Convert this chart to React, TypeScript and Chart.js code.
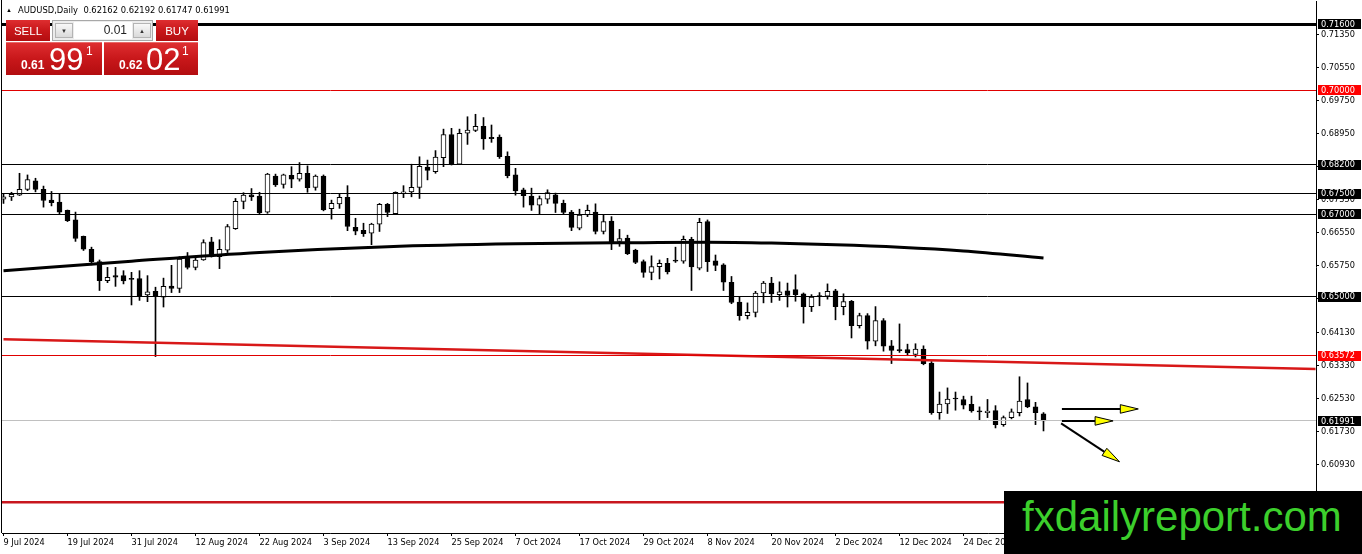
import React, { useEffect, useRef } from 'react';
import { Chart, registerables } from 'chart.js';

Chart.register(...registerables);

// ---------------- data (AUDUSD daily, bar 0 = 9 Jul 2024) ----------------
const opens = [
  0.6736, 0.6742, 0.6746, 0.6760, 0.6781, 0.6760, 0.6734, 0.6729, 0.6709, 0.6686,
  0.6646, 0.6615, 0.6585, 0.6539, 0.6551, 0.6551, 0.6543, 0.6544, 0.6504, 0.6513,
  0.6499, 0.6526, 0.6520, 0.6596, 0.6571, 0.6589, 0.6633, 0.6597, 0.6613, 0.6665,
  0.6731, 0.6747, 0.6744, 0.6705, 0.6792, 0.6772, 0.6794, 0.6785, 0.6799, 0.6765,
  0.6792, 0.6713, 0.6725, 0.6741, 0.6668, 0.6661, 0.6654, 0.6676, 0.6724, 0.6701,
  0.6750, 0.6754, 0.6765, 0.6814, 0.6803, 0.6837, 0.6893, 0.6821, 0.6896, 0.6903,
  0.6913, 0.6886, 0.6887, 0.6840, 0.6795, 0.6759, 0.6744, 0.6722, 0.6736, 0.6747,
  0.6726, 0.6705, 0.6666, 0.6698, 0.6705, 0.6658, 0.6683, 0.6634, 0.6642, 0.6613,
  0.6585, 0.6559, 0.6573, 0.6581, 0.6589, 0.6586, 0.6639, 0.6569, 0.6682, 0.6587,
  0.6577, 0.6535, 0.6487, 0.6454, 0.6462, 0.6509, 0.6533, 0.6505, 0.6514, 0.6517,
  0.6507, 0.6476, 0.6502, 0.6501, 0.6514, 0.6476, 0.6489, 0.6430, 0.6454, 0.6392,
  0.6442, 0.6381, 0.6372, 0.6372, 0.6360, 0.6373, 0.6339, 0.6219, 0.6240, 0.6254,
  0.6251, 0.6239, 0.6223, 0.6219, 0.6224, 0.6190, 0.6207, 0.6219, 0.6251, 0.6233, 0.62162,
];
const highs = [
  0.6748, 0.6753, 0.6799, 0.6795, 0.6787, 0.6768, 0.6755, 0.6748, 0.6710, 0.6705,
  0.6647, 0.6620, 0.6589, 0.6571, 0.6571, 0.6563, 0.6559, 0.6563, 0.6551, 0.6523,
  0.6545, 0.6576, 0.6597, 0.6607, 0.6597, 0.6638, 0.6644, 0.6638, 0.6675, 0.6738,
  0.6752, 0.6762, 0.6753, 0.6799, 0.6797, 0.6797, 0.6815, 0.6825, 0.6817, 0.6795,
  0.6795, 0.6734, 0.6750, 0.6769, 0.6690, 0.6678, 0.6678, 0.6726, 0.6726, 0.6754,
  0.6769, 0.6821, 0.6839, 0.6831, 0.6854, 0.6906, 0.6908, 0.6906, 0.6936, 0.6942,
  0.6934, 0.6916, 0.6892, 0.6851, 0.6811, 0.6763, 0.6763, 0.6744, 0.6759, 0.6751,
  0.6734, 0.6709, 0.6712, 0.6722, 0.6725, 0.6698, 0.6694, 0.6663, 0.6649, 0.6615,
  0.6589, 0.6599, 0.6589, 0.6593, 0.6620, 0.6647, 0.6644, 0.6690, 0.6686, 0.6601,
  0.6580, 0.6549, 0.6499, 0.6485, 0.6513, 0.6537, 0.6547, 0.6536, 0.6533, 0.6553,
  0.6509, 0.6505, 0.6510, 0.6531, 0.6518, 0.6507, 0.6491, 0.6460, 0.6459, 0.6476,
  0.6447, 0.6394, 0.6434, 0.6385, 0.6386, 0.6381, 0.6343, 0.6269, 0.6279, 0.6269,
  0.6259, 0.6259, 0.6233, 0.6251, 0.6236, 0.6211, 0.6228, 0.6306, 0.6291, 0.6244, 0.62192,
];
const lows = [
  0.6726, 0.6733, 0.6745, 0.6757, 0.6754, 0.6717, 0.6720, 0.6700, 0.6682, 0.6634,
  0.6612, 0.6577, 0.6515, 0.6534, 0.6525, 0.6531, 0.6480, 0.6491, 0.6488, 0.6355,
  0.6475, 0.6510, 0.6510, 0.6567, 0.6565, 0.6588, 0.6596, 0.6568, 0.6607, 0.6663,
  0.6713, 0.6733, 0.6700, 0.6702, 0.6767, 0.6763, 0.6764, 0.6780, 0.6753, 0.6758,
  0.6708, 0.6688, 0.6714, 0.6660, 0.6650, 0.6646, 0.6626, 0.6658, 0.6694, 0.6700,
  0.6740, 0.6742, 0.6738, 0.6783, 0.6799, 0.6815, 0.6819, 0.6821, 0.6869, 0.6900,
  0.6857, 0.6874, 0.6835, 0.6788, 0.6746, 0.6717, 0.6709, 0.6701, 0.6726, 0.6704,
  0.6701, 0.6660, 0.6662, 0.6694, 0.6652, 0.6652, 0.6614, 0.6622, 0.6602, 0.6580,
  0.6547, 0.6541, 0.6543, 0.6555, 0.6583, 0.6581, 0.6515, 0.6565, 0.6561, 0.6563,
  0.6515, 0.6483, 0.6443, 0.6446, 0.6451, 0.6485, 0.6486, 0.6491, 0.6475, 0.6489,
  0.6436, 0.6464, 0.6478, 0.6494, 0.6444, 0.6456, 0.6400, 0.6424, 0.6373, 0.6381,
  0.6368, 0.6338, 0.6365, 0.6357, 0.6354, 0.6335, 0.6215, 0.6203, 0.6217, 0.6225,
  0.6228, 0.6220, 0.6202, 0.6207, 0.6182, 0.6186, 0.6204, 0.6211, 0.6231, 0.6190, 0.61747,
];
const closes = [
  0.6742, 0.6748, 0.6760, 0.6784, 0.6760, 0.6733, 0.6728, 0.6705, 0.6684, 0.6641,
  0.6615, 0.6585, 0.6539, 0.6547, 0.6547, 0.6538, 0.6542, 0.6502, 0.6512, 0.6501,
  0.6525, 0.6520, 0.6591, 0.6571, 0.6589, 0.6631, 0.6597, 0.6615, 0.6670, 0.6731,
  0.6746, 0.6742, 0.6703, 0.6797, 0.6771, 0.6795, 0.6785, 0.6799, 0.6764, 0.6792,
  0.6710, 0.6726, 0.6741, 0.6670, 0.6659, 0.6653, 0.6676, 0.6724, 0.6704, 0.6753,
  0.6754, 0.6765, 0.6816, 0.6806, 0.6838, 0.6893, 0.6821, 0.6896, 0.6904, 0.6913,
  0.6882, 0.6883, 0.6839, 0.6793, 0.6756, 0.6745, 0.6722, 0.6738, 0.6752, 0.6726,
  0.6704, 0.6668, 0.6698, 0.6709, 0.6658, 0.6682, 0.6630, 0.6641, 0.6604, 0.6583,
  0.6559, 0.6573, 0.6581, 0.6560, 0.6586, 0.6639, 0.6572, 0.6680, 0.6585, 0.6576,
  0.6535, 0.6486, 0.6454, 0.6462, 0.6509, 0.6533, 0.6507, 0.6512, 0.6503, 0.6505,
  0.6476, 0.6499, 0.6500, 0.6513, 0.6476, 0.6488, 0.6430, 0.6454, 0.6392, 0.6442,
  0.6380, 0.6370, 0.6369, 0.6364, 0.6373, 0.6338, 0.6219, 0.6240, 0.6252, 0.6252,
  0.6237, 0.6223, 0.6221, 0.6223, 0.6190, 0.6207, 0.6221, 0.6247, 0.6233, 0.6219, 0.61991,
];

// date labels, one every 8 bars
const dateLabels = [
  '9 Jul 2024', '19 Jul 2024', '31 Jul 2024', '12 Aug 2024', '22 Aug 2024', '3 Sep 2024',
  '13 Sep 2024', '25 Sep 2024', '7 Oct 2024', '17 Oct 2024', '29 Oct 2024', '8 Nov 2024',
  '20 Nov 2024', '2 Dec 2024', '12 Dec 2024', '24 Dec 2024',
];
const dateLabelStep = 8;

// price axis tick labels
const priceTicks = [
  0.7135, 0.7055, 0.6975, 0.6895, 0.6815, 0.6735, 0.6655, 0.6575, 0.6495,
  0.6413, 0.6333, 0.6253, 0.6173, 0.6093,
];

// moving average (read at several bars)
const maIndex = [0, 16, 32, 48, 64, 80, 88, 96, 104, 112, 120, 130];
const maValue = [0.6563, 0.6586, 0.6607, 0.6621, 0.6628, 0.6631, 0.6632, 0.6630, 0.6626, 0.6620, 0.6611, 0.6594];

// sloped red trend line
const trendIndex = [0, 164];
const trendValue = [0.6397, 0.6325];

// horizontal levels
const levelPrices = [0.716, 0.70, 0.682, 0.675, 0.67, 0.65, 0.63572, 0.61991, 0.6002];
const levelColors = ['#000000', '#e00000', '#000000', '#000000', '#000000', '#000000', '#e00000', '#c0c0c0', '#c8161e'];
const levelWidths = [3, 1, 1, 1, 1, 1, 1, 1, 2.5];
const levelTagColors = ['#000000', '#ff0000', '#000000', '#000000', '#000000', '#000000', '#ff0000', '#000000', ''];

// arrows (bar index / price)
const arrowFromX = [132.3, 132.3, 132.2];
const arrowFromY = [0.6228, 0.6199, 0.6193];
const arrowToX = [141.85, 138.7, 139.5];
const arrowToY = [0.6228, 0.6199, 0.6100];

// ---------------- layout constants ----------------
const W = 1362;
const H = 554;
const X_MIN = -0.1875;
const X_MAX = 164.0625;
const Y_MIN = 0.592742;
const Y_MAX = 0.721646;
const AXIS_FONT = '"DejaVu Sans", "Liberation Sans", sans-serif';

const zeroPadding = (s: any) => {
  s.paddingTop = 0;
  s.paddingBottom = 0;
  s.paddingLeft = 0;
  s.paddingRight = 0;
};

const overlayPlugin = {
  id: 'mt4overlay',
  afterDatasetsDraw(chart: any) {
    const { ctx, chartArea: a, scales } = chart;
    const x = scales.x;
    const y = scales.y;
    ctx.save();
    ctx.beginPath();
    ctx.rect(a.left, a.top, a.right - a.left, a.bottom - a.top);
    ctx.clip();
    // horizontal levels
    levelPrices.forEach((p, k) => {
      const w = levelWidths[k];
      let py = y.getPixelForValue(p);
      if (w === 1 || w === 3) py = Math.round(py - 0.5) + 0.5;
      ctx.beginPath();
      ctx.strokeStyle = levelColors[k];
      ctx.lineWidth = w;
      ctx.moveTo(a.left, py);
      ctx.lineTo(a.right, py);
      ctx.stroke();
    });
    // arrows
    arrowFromX.forEach((_, k) => {
      const x0 = x.getPixelForValue(arrowFromX[k]);
      const y0 = y.getPixelForValue(arrowFromY[k]);
      const x1 = x.getPixelForValue(arrowToX[k]);
      const y1 = y.getPixelForValue(arrowToY[k]);
      const ang = Math.atan2(y1 - y0, x1 - x0);
      const L = 18;
      const HW = 4.3;
      const bx = x1 - L * Math.cos(ang);
      const by = y1 - L * Math.sin(ang);
      ctx.beginPath();
      ctx.strokeStyle = '#000';
      ctx.lineWidth = 2;
      ctx.moveTo(x0, y0);
      ctx.lineTo(bx, by);
      ctx.stroke();
      ctx.beginPath();
      ctx.moveTo(x1, y1);
      ctx.lineTo(bx + HW * Math.sin(ang), by - HW * Math.cos(ang));
      ctx.lineTo(bx - HW * Math.sin(ang), by + HW * Math.cos(ang));
      ctx.closePath();
      ctx.fillStyle = '#ffff00';
      ctx.fill();
      ctx.lineWidth = 1;
      ctx.strokeStyle = '#000';
      ctx.stroke();
    });
    ctx.restore();
    // left frame line
    ctx.save();
    ctx.fillStyle = '#000';
    ctx.fillRect(a.left - 1, 0, 1, a.bottom);
    ctx.restore();
  },
  afterDraw(chart: any) {
    const { ctx, chartArea: a, scales } = chart;
    const y = scales.y;
    ctx.save();
    ctx.font = `8.2px ${AXIS_FONT}`;
    ctx.textBaseline = 'middle';
    ctx.textAlign = 'left';
    levelPrices.forEach((p, k) => {
      const bg = levelTagColors[k];
      if (!bg) return;
      const py = y.getPixelForValue(p);
      ctx.fillStyle = bg;
      ctx.fillRect(a.right + 2, Math.round(py) - 5, 43, 10);
      ctx.fillStyle = '#ffffff';
      ctx.fillText(p.toFixed(5), a.right + 5, py + 0.5);
    });
    ctx.restore();
  },
};

const red = 'linear-gradient(180deg, #de2e30 0%, #c8171a 50%, #b30d10 100%)';

export default function App() {
  const canvasRef = useRef<HTMLCanvasElement>(null);

  useEffect(() => {
    const canvas = canvasRef.current;
    if (!canvas) return;
    const idx = opens.map((_, i) => i);
    const chart = new Chart(canvas, {
      type: 'bar',
      data: {
        datasets: [
          {
            type: 'bar',
            label: 'wicks',
            data: idx.map((i) => ({ x: i, y: [lows[i], highs[i]] })) as any,
            backgroundColor: '#000',
            borderWidth: 0,
            grouped: false,
            barThickness: 1,
            order: 3,
          } as any,
          {
            type: 'bar',
            label: 'bodies',
            data: idx.map((i) => ({ x: i, y: [opens[i], closes[i]] })) as any,
            backgroundColor: idx.map((i) => (closes[i] > opens[i] ? '#ffffff' : '#000000')),
            borderColor: '#000',
            borderWidth: 1,
            borderSkipped: false,
            grouped: false,
            barThickness: 5,
            minBarLength: 1,
            order: 2,
          } as any,
          {
            type: 'line',
            label: 'MA',
            data: maIndex.map((xv, k) => ({ x: xv, y: maValue[k] })),
            borderColor: '#000',
            borderWidth: 3,
            pointRadius: 0,
            cubicInterpolationMode: 'monotone',
            order: 1,
          } as any,
          {
            type: 'line',
            label: 'trend',
            data: trendIndex.map((xv, k) => ({ x: xv, y: trendValue[k] })),
            borderColor: '#d81818',
            borderWidth: 2.5,
            pointRadius: 0,
            order: 1,
          } as any,
        ],
      },
      options: {
        animation: false,
        responsive: false,
        events: [],
        layout: { padding: { left: 2, top: 1, right: 0, bottom: 0 } },
        plugins: { legend: { display: false }, tooltip: { enabled: false } },
        scales: {
          x: {
            type: 'linear',
            min: X_MIN,
            max: X_MAX,
            offset: false,
            afterFit: (s: any) => {
              s.height = 21;
              zeroPadding(s);
            },
            afterBuildTicks: (s: any) => {
              s.ticks = dateLabels.map((_, k) => ({ value: k * dateLabelStep }));
            },
            ticks: {
              callback: (v: any) => dateLabels[Math.round(Number(v) / dateLabelStep)] ?? '',
              align: 'start',
              maxRotation: 0,
              minRotation: 0,
              autoSkip: false,
              padding: 2,
              color: '#000',
              font: { family: AXIS_FONT, size: 8.2 },
            },
            grid: { drawOnChartArea: false, drawTicks: true, tickLength: 3, color: '#000', offset: false },
            border: { display: true, color: '#000', width: 1 },
          } as any,
          y: {
            type: 'linear',
            position: 'right',
            min: Y_MIN,
            max: Y_MAX,
            afterFit: (s: any) => {
              s.width = 46;
              zeroPadding(s);
            },
            afterBuildTicks: (s: any) => {
              s.ticks = priceTicks.map((v) => ({ value: v }));
            },
            ticks: {
              callback: (v: any) => Number(v).toFixed(5),
              autoSkip: false,
              padding: 2,
              color: '#000',
              font: { family: AXIS_FONT, size: 8.2 },
            },
            grid: { drawOnChartArea: false, drawTicks: true, tickLength: 3, color: '#000' },
            border: { display: true, color: '#000', width: 1 },
          } as any,
        },
      },
      plugins: [overlayPlugin],
    });
    return () => chart.destroy();
  }, []);

  const smallFont = '"Liberation Sans", Arial, sans-serif';

  return (
    <div style={{ position: 'fixed', left: 0, top: 0, width: W, height: H, background: '#fff', overflow: 'hidden' }}>
      <canvas ref={canvasRef} width={W} height={H} style={{ position: 'absolute', left: 0, top: 0, width: W, height: H }} />

      {/* header */}
      <div style={{ position: 'absolute', left: 6, top: 6, fontSize: 6, lineHeight: '8px', color: '#000' }}>▲</div>
      <div style={{ position: 'absolute', left: 18, top: 5, font: `8.4px ${AXIS_FONT}`, lineHeight: '11px', whiteSpace: 'pre', color: '#000' }}>
        AUDUSD,Daily  0.62162 0.62192 0.61747 0.61991
      </div>

      {/* one-click trading panel */}
      <div style={{ position: 'absolute', left: 6, top: 20, width: 44, height: 21, background: red, color: '#fff', font: `11.5px ${smallFont}`, display: 'flex', alignItems: 'center', justifyContent: 'center' }}>SELL</div>
      <div style={{ position: 'absolute', left: 52, top: 20, width: 101, height: 21, background: '#ececec', border: '1px solid #a8a8a8', boxSizing: 'border-box' }}>
        <div style={{ position: 'absolute', left: 2, top: 2, width: 18, height: 15, boxSizing: 'border-box', background: 'linear-gradient(#f8f8f8,#dadada)', border: '1px solid #b4b4b4', fontSize: 6, color: '#333', display: 'flex', alignItems: 'center', justifyContent: 'center' }}>▼</div>
        <div style={{ position: 'absolute', left: 21, top: 1, width: 58, height: 17, background: '#fff', font: `12px ${smallFont}`, color: '#222', textAlign: 'right', lineHeight: '17px', paddingRight: 5, boxSizing: 'border-box' }}>0.01</div>
        <div style={{ position: 'absolute', left: 80, top: 2, width: 18, height: 15, boxSizing: 'border-box', background: 'linear-gradient(#f8f8f8,#dadada)', border: '1px solid #b4b4b4', fontSize: 6, color: '#333', display: 'flex', alignItems: 'center', justifyContent: 'center' }}>▲</div>
      </div>
      <div style={{ position: 'absolute', left: 156, top: 20, width: 42, height: 21, background: red, color: '#fff', font: `11.5px ${smallFont}`, display: 'flex', alignItems: 'center', justifyContent: 'center' }}>BUY</div>

      <div style={{ position: 'absolute', left: 6, top: 42, width: 96, height: 33, background: red, color: '#fff', borderTop: '1px solid #e86a6a', boxSizing: 'border-box' }}>
        <span style={{ position: 'absolute', left: 15, top: 16, font: `bold 12px ${smallFont}`, lineHeight: '12px' }}>0.61</span>
        <span style={{ position: 'absolute', left: 43, top: 1, font: `31px ${smallFont}`, lineHeight: '31px' }}>99</span>
        <span style={{ position: 'absolute', left: 80, top: 2, font: `12px ${smallFont}`, lineHeight: '12px' }}>1</span>
      </div>
      <div style={{ position: 'absolute', left: 104, top: 42, width: 94, height: 33, background: red, color: '#fff', borderTop: '1px solid #e86a6a', boxSizing: 'border-box' }}>
        <span style={{ position: 'absolute', left: 15, top: 16, font: `bold 12px ${smallFont}`, lineHeight: '12px' }}>0.62</span>
        <span style={{ position: 'absolute', left: 42, top: 1, font: `31px ${smallFont}`, lineHeight: '31px' }}>02</span>
        <span style={{ position: 'absolute', left: 78, top: 2, font: `12px ${smallFont}`, lineHeight: '12px' }}>1</span>
      </div>

      {/* watermark */}
      <div style={{ position: 'absolute', left: 1004, top: 491, width: 358, height: 63, background: '#000' }}>
        <span style={{ position: 'absolute', left: 18, top: 5, font: `42px ${smallFont}`, lineHeight: '42px', color: '#3ccf2c', whiteSpace: 'nowrap' }}>fxdailyreport.com</span>
      </div>
    </div>
  );
}
